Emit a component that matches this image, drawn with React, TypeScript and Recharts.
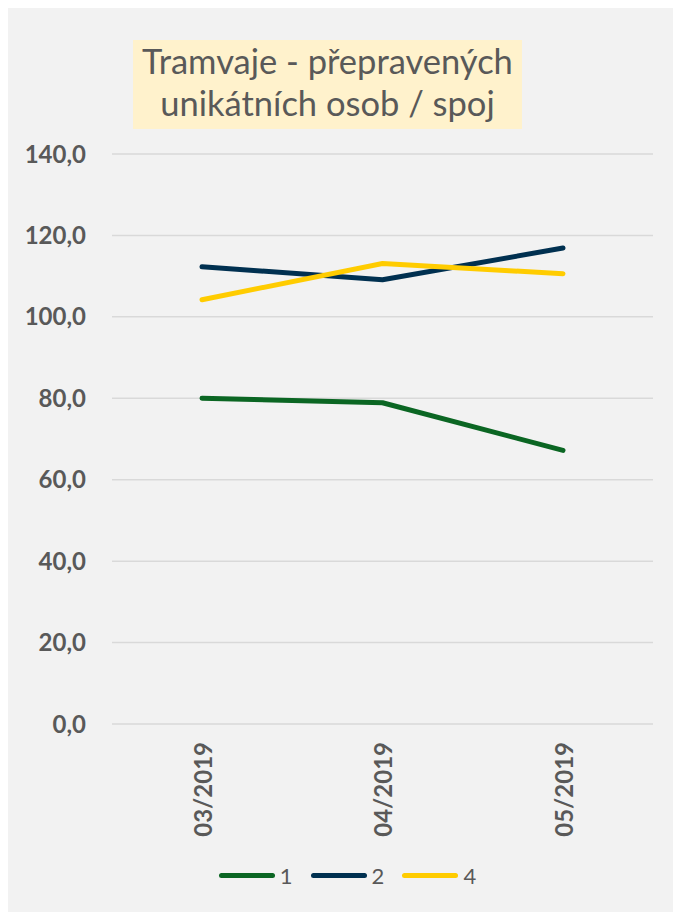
import { LineChart, Line, XAxis, YAxis, CartesianGrid, Legend } from "recharts"

const months = ["03/2019", "04/2019", "05/2019"]
const line1 = [80.0, 78.9, 67.2]
const line2 = [112.3, 109.1, 116.9]
const line4 = [104.2, 113.1, 110.6]
const yTicks = [0, 20, 40, 60, 80, 100, 120, 140]

const series = [
  { key: "s1", name: "1", color: "#0b6623" },
  { key: "s2", name: "2", color: "#003050" },
  { key: "s4", name: "4", color: "#ffcc00" },
]

const data = months.map((m, i) => ({ month: m, s1: line1[i], s2: line2[i], s4: line4[i] }))

const textColor = "#595959"
const font = "Lato, 'Open Sans', sans-serif"

function XTick(props: any) {
  const { x, y, payload } = props
  return (
    <text
      x={x}
      y={y + 10}
      transform={`rotate(-90, ${x}, ${y + 10})`}
      textAnchor="end"
      dominantBaseline="central"
      fill={textColor}
      fontSize={24}
      fontWeight={700}
      fontFamily={font}
    >
      {payload.value}
    </text>
  )
}

function LegendBox() {
  return (
    <div style={{ display: "flex", justifyContent: "center", alignItems: "center", height: 26, marginLeft: 34, fontFamily: font }}>
      {series.map((s) => (
        <div key={s.key} style={{ display: "flex", alignItems: "center", margin: "0 9px" }}>
          <div style={{ width: 56, height: 5, borderRadius: 3, background: s.color }} />
          <span style={{ fontSize: 22, color: textColor, marginLeft: 5 }}>{s.name}</span>
        </div>
      ))}
    </div>
  )
}

export default function App() {
  return (
    <div style={{ position: "fixed", left: 8, top: 8, right: 0, bottom: 0, overflow: "hidden", background: "#f2f2f2" }}>
      <div
        style={{
          position: "absolute",
          left: 125,
          top: 32,
          width: 389,
          height: 89,
          background: "#fff2cc",
          color: textColor,
          fontFamily: font,
          fontSize: 34.5,
          lineHeight: "42px",
          textAlign: "center",
          boxSizing: "border-box",
        }}
      >
        Tramvaje - přepravených
        <br />
        unikátních osob / spoj
      </div>
      <LineChart width={665} height={904} data={data} margin={{ top: 146, right: 20, bottom: 0, left: 0 }}>
        <CartesianGrid vertical={false} stroke="#d9d9d9" strokeWidth={1.5} />
        <XAxis
          dataKey="month"
          height={138}
          padding={{ left: 90, right: 90 }}
          axisLine={false}
          tickLine={false}
          tick={<XTick />}
          interval={0}
        />
        <YAxis
          width={104}
          domain={[0, 140]}
          ticks={yTicks}
          axisLine={false}
          tickLine={false}
          tickSize={0}
          tickMargin={26}
          tickFormatter={(v: number) => v.toFixed(1).replace(".", ",")}
          tick={{ fill: textColor, fontSize: 24, fontWeight: 700, fontFamily: font }}
        />
        <Legend verticalAlign="bottom" height={50} content={<LegendBox />} />
        {series.map((s) => (
          <Line
            key={s.key}
            type="linear"
            dataKey={s.key}
            name={s.name}
            stroke={s.color}
            strokeWidth={5}
            strokeLinecap="round"
            strokeLinejoin="round"
            dot={false}
            activeDot={false}
            isAnimationActive={false}
          />
        ))}
      </LineChart>
    </div>
  )
}
